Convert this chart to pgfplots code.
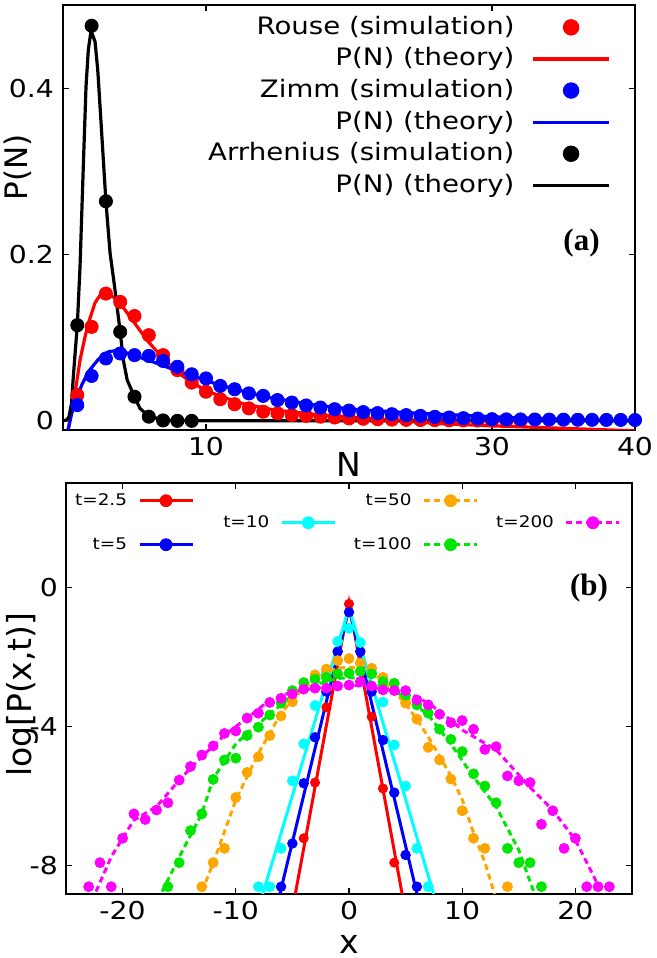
\documentclass[border=0pt]{standalone}
\usepackage{pgfplots}
\pgfplotsset{compat=1.18}
\usepackage{fontspec}
\setmainfont{DejaVu Sans}[FakeStretch=1.15]
\newfontfamily\plainsans{DejaVu Sans}
\newfontfamily\serifb{Liberation Serif}
\definecolor{myorange}{RGB}{255,165,0}
\definecolor{mygreen}{RGB}{0,230,0}
\definecolor{mycyan}{RGB}{0,255,255}
\definecolor{mymagenta}{RGB}{255,0,255}
\begin{document}
\begin{tikzpicture}
\useasboundingbox (0,0) rectangle (328.5pt,479pt);
% ---------------- (a) ----------------
\begin{axis}[
 at={(31.5pt,264pt)}, anchor=south west, scale only axis, width=286pt, height=212.5pt,
 xmin=0, xmax=40, ymin=-0.011, ymax=0.5,
 xtick={10,30,40}, xticklabels={10,30,40},
 ytick={0,0.2,0.4}, yticklabels={0,0.2,0.4},
 tick align=inside, tick pos=both, major tick length=3pt,
 axis line style={line width=0.6pt},
 tick style={line width=0.6pt, black},
 tick label style={font=\fontsize{12.3}{14}\selectfont},
 yticklabel style={xshift=-1pt},
 xlabel={N}, xlabel style={at={(axis description cs:0.5,-0.1099)}, anchor=base, font=\plainsans\fontsize{16.5}{19}\selectfont},
 ylabel={P(N)}, ylabel style={at={(axis description cs:-0.0617,0.618)}, anchor=base, font=\plainsans\fontsize{15.5}{18}\selectfont},
 legend plot pos=right, legend cell align=right,
 legend style={at={(axis description cs:0.9575,0.978)}, anchor=north east, draw=none, fill=none, inner sep=0pt, outer sep=0pt, row sep=2.8pt, column sep=8.5pt, font=\fontsize{12}{14}\selectfont, nodes={inner sep=0pt, text height=10pt, text depth=3pt}},
]
\addplot[only marks, mark=*, mark size=3.3pt, color=red,
 legend image code/.code={\fill[red] (19pt,0pt) circle (3.9pt);}] coordinates {
(1,0.031) (2,0.113) (3,0.153) (4,0.143) (5,0.126) (6,0.103) (7,0.079) (8,0.061) (9,0.046) (10,0.035)
(11,0.026) (12,0.020) (13,0.015) (14,0.011) (15,0.009) (16,0.007) (17,0.006) (18,0.005) (19,0.004) (20,0.003)
(21,0.0025) (22,0.002) (23,0.0015) (24,0.0012) (25,0.001) (26,0.0008) (27,0.0006) (28,0.0005) (29,0.0004) (30,0.0003)
(31,0.0002) (32,0.0001)};
\addlegendentry{Rouse (simulation)}
\addplot[red, line width=1.6pt, mark=none,
 legend image code/.code={\draw[red,line width=1.6pt] (0pt,0pt) -- (38pt,0pt);}] coordinates {
(0.33,-0.013) (0.61,0.013) (0.84,0.033) (1.19,0.073) (1.54,0.101) (1.77,0.117) (2.24,0.142) (2.59,0.151)
(2.94,0.154) (3.52,0.149) (4.1,0.139) (5.03,0.117) (5.97,0.095) (6.9,0.077) (7.83,0.061) (8.76,0.049)
(9.93,0.037) (11.1,0.029) (12.5,0.021) (13.9,0.016) (14.8,0.013) (18,0.007) (22,0.002) (26,-0.003)
(30,-0.006) (35,-0.009) (40,-0.012)};
\addlegendentry{P(N) (theory)}
\addplot[only marks, mark=*, mark size=3.3pt, color=blue,
 legend image code/.code={\fill[blue] (19pt,0pt) circle (3.9pt);}] coordinates {
(1,0.019) (2,0.054) (3,0.075) (4,0.081) (5,0.079) (6,0.078) (7,0.072) (8,0.065) (9,0.056) (10,0.051)
(11,0.042) (12,0.038) (13,0.033) (14,0.030) (15,0.025) (16,0.022) (17,0.0185) (18,0.016) (19,0.014) (20,0.0124)
(21,0.0105) (22,0.0093) (23,0.008) (24,0.0069) (25,0.006) (26,0.0048) (27,0.004) (28,0.0032) (29,0.0028) (30,0.002)
(31,0.0018) (32,0.0017) (33,0.0016) (34,0.0015) (35,0.0014) (36,0.0013) (37,0.0012) (38,0.0011) (39,0.0011) (40,0.001)};
\addlegendentry{Zimm (simulation)}
\addplot[blue, line width=1.6pt, mark=none,
 legend image code/.code={\draw[blue,line width=1.6pt] (0pt,0pt) -- (38pt,0pt);}] coordinates {
(0.33,-0.013) (0.61,0.009) (0.96,0.027) (1.31,0.043) (1.77,0.059) (2.47,0.074) (3.17,0.083) (3.87,0.085)
(5.27,0.077) (6.43,0.070) (7.83,0.061) (9.23,0.053) (10.6,0.045) (12.5,0.036) (14.4,0.028) (18,0.018)
(21,0.013) (25,0.009) (30,0.005) (35,0.002) (40,0.0)};
\addlegendentry{P(N) (theory)}
\addplot[only marks, mark=*, mark size=3.3pt, color=black,
 legend image code/.code={\fill[black] (19pt,0pt) circle (3.9pt);}] coordinates {
(1,0.115) (2,0.475) (3,0.264) (4,0.107) (5,0.029) (6,0.005) (7,0.0005) (8,0) (9,0)};
\addlegendentry{Arrhenius (simulation)}
\addplot[black, line width=1.6pt, mark=none,
 legend image code/.code={\draw[black,line width=1.6pt] (0pt,0pt) -- (38pt,0pt);}] coordinates {
(0,0) (0.26,0.001) (0.42,0.005) (0.6,0.021) (0.72,0.053) (1,0.115) (1.19,0.185) (1.42,0.306)
(1.61,0.402) (1.77,0.446) (1.96,0.469) (2.24,0.456) (2.43,0.422) (2.59,0.378) (2.82,0.314) (3,0.264)
(3.29,0.202) (3.58,0.165) (4,0.107) (4.22,0.073) (4.49,0.049) (5,0.029) (5.38,0.015) (5.97,0.006)
(6.8,0.002) (7.7,0) (40,0)};
\addlegendentry{P(N) (theory)}
\node[anchor=base east, font=\fontsize{15.5}{18}\serifb\bfseries] at (axis description cs:0.9505,0.4235) {(a)};
\end{axis}
% ---------------- (b) ----------------
\begin{axis}[
 at={(33pt,32pt)}, anchor=south west, scale only axis, width=283pt, height=205.5pt,
 xmin=-25, xmax=25, ymin=-8.81, ymax=2.99,
 xtick={-20,-10,0,10,20}, xticklabels={-20,-10,0,10,20},
 ytick={-8,-4,0}, yticklabels={-8,-4,0},
 tick align=inside, tick pos=both, major tick length=3pt,
 axis line style={line width=0.6pt},
 tick style={line width=0.6pt, black},
 tick label style={font=\fontsize{12.3}{14}\selectfont},
 yticklabel style={xshift=-0.5pt},
 xlabel={x}, xlabel style={at={(axis description cs:0.5,-0.1436)}, anchor=base, font=\plainsans\fontsize{16.5}{19}\selectfont},
 ylabel={log[P(x,t)]}, ylabel style={at={(axis description cs:-0.0606,0.485)}, anchor=base, font=\plainsans\fontsize{16.5}{19}\selectfont},
 legend columns=4, legend plot pos=right, legend cell align=right,
 legend style={at={(axis description cs:0.0018,0.9788)}, anchor=north west, draw=none, fill=none, inner sep=0pt, outer sep=0pt, row sep=2pt, font=\fontsize{8}{9.6}\selectfont, nodes={inner sep=0pt, text height=7pt, text depth=2pt, text width=30pt, align=right}, /tikz/every odd column/.append style={column sep=5.5pt}, /tikz/every even column/.append style={column sep=7.65pt}},
]
% t=2.5
\addplot[forget plot, red, line width=1.5pt, mark=none] coordinates {(-4.85,-9) (0,-0.45) (4.8,-9)};
\addplot[forget plot, only marks, mark=*, mark size=2.3pt, color=red] coordinates {
(-4,-7.21) (-3,-5.61) (-2,-3.45) (-1,-1.85) (0,-0.48) (1,-1.85) (2,-3.72) (3,-5.78) (4,-7.91)};
% t=5
\addplot[forget plot, blue, line width=1.5pt, mark=none] coordinates {(-6.25,-9) (0,-0.6) (6.15,-9)};
\addplot[forget plot, only marks, mark=*, mark size=2.4pt, color=blue] coordinates {
(-6,-8.6) (-5,-7.36) (-4,-5.63) (-3,-4.31) (-2,-3.0) (-1,-1.85) (0,-0.72) (1,-1.85) (2,-3.0) (3,-4.39) (4,-5.9) (5,-7.69) (6,-8.6)};
% t=10
\addplot[forget plot, mycyan, line width=1.5pt, mark=none] coordinates {(-7.8,-9) (0,-0.6) (7.65,-9)};
\addplot[forget plot, only marks, mark=*, mark size=2.5pt, color=mycyan] coordinates {
(-8,-8.6) (-7,-8.6) (-6,-7.5) (-5,-5.56) (-4,-4.5) (-3,-3.4) (-2,-2.45) (-1,-1.56) (0,-1.18) (1,-1.59) (2,-2.45) (3,-3.30) (4,-4.53) (5,-5.71) (6,-7.5) (7,-8.6)};
% t=50
\addplot[forget plot, myorange, line width=1.5pt, dash pattern=on 3pt off 2pt, mark=none] coordinates {
(-13.3,-9) (-12,-7.93) (-10,-6.11) (-8,-4.77) (-6,-3.62) (-5,-3.24) (-4,-2.9) (-3,-2.65) (-2,-2.45) (-1,-2.33) (0,-2.3)
(1,-2.33) (2,-2.45) (3,-2.68) (4,-3.0) (5,-3.35) (6,-3.8) (7,-4.3) (8,-4.85) (9,-5.42) (10,-6.1) (11,-7.05) (12,-7.9) (13.05,-9)};
\addplot[forget plot, only marks, mark=*, mark size=2.5pt, color=myorange] coordinates {
(-13,-8.6) (-12,-7.91) (-11,-7.5) (-10,-6.04) (-9,-5.32) (-8,-4.87) (-7,-4.26) (-6,-3.70) (-5,-3.29) (-4,-2.9) (-3,-2.52) (-2,-2.35) (-1,-2.11)
(0,-2.05) (1,-2.18) (2,-2.33) (3,-2.59) (4,-2.95) (5,-3.33) (6,-3.79) (7,-4.6) (8,-4.96) (9,-5.51) (10,-6.42) (11,-7.21) (12,-7.5) (14,-8.6)};
% t=100
\addplot[forget plot, mygreen, line width=1.5pt, dash pattern=on 3pt off 2pt, mark=none] coordinates {
(-16.9,-9) (-15,-7.75) (-13,-6.5) (-12,-5.5) (-10,-4.5) (-9,-4.2) (-7,-3.65) (-5,-3.1) (-3,-2.8) (-1,-2.62) (0,-2.6)
(1,-2.62) (3,-2.85) (5,-3.15) (7,-3.67) (9,-4.5) (11,-5.45) (13,-6.3) (15,-7.55) (16.6,-9)};
\addplot[forget plot, only marks, mark=*, mark size=2.5pt, color=mygreen] coordinates {
(-16,-8.6) (-15,-7.91) (-14,-6.99) (-13,-6.51) (-12,-5.52) (-11,-4.96) (-10,-4.91) (-9,-4.26) (-8,-4.02) (-7,-3.67) (-6,-3.33) (-5,-2.97)
(-4,-2.74) (-3,-2.64) (-2,-2.59) (-1,-2.49) (0,-2.47) (1,-2.42) (2,-2.49) (3,-2.71) (4,-2.76) (5,-3.1) (6,-3.38) (7,-3.62) (8,-4.08)
(9,-4.37) (10,-4.72) (11,-5.36) (12,-5.71) (13,-6.19) (14,-7.5) (15,-7.91) (16,-7.91) (17,-8.6)};
% t=200
\addplot[forget plot, mymagenta, line width=1.5pt, dash pattern=on 3pt off 2pt, mark=none] coordinates {
(-22.7,-9) (-21,-7.74) (-20,-7.21) (-19,-6.69) (-17,-6.3) (-15,-5.54) (-13,-4.87) (-11,-4.25) (-9,-3.76) (-7,-3.24) (-5,-3.0) (-3,-2.9) (0,-2.8)
(3,-2.92) (5,-3.05) (6,-3.14) (8,-3.55) (10,-4.1) (13,-4.67) (16,-5.75) (18,-6.4) (20,-7.26) (22.7,-9)};
\addplot[forget plot, only marks, mark=*, mark size=2.5pt, color=mymagenta] coordinates {
(-23,-8.6) (-22,-7.91) (-21,-8.6) (-20,-7.21) (-19,-6.51) (-18,-6.67) (-17,-6.40) (-16,-6.19) (-15,-5.54) (-14,-5.15) (-13,-4.82) (-12,-4.56)
(-11,-4.20) (-10,-4.13) (-9,-3.76) (-8,-3.62) (-7,-3.31) (-6,-3.19) (-5,-3.07) (-4,-2.93) (-3,-2.90) (-2,-2.90) (-1,-2.84) (0,-2.81)
(1,-2.71) (2,-2.84) (3,-2.95) (4,-2.97) (5,-2.97) (6,-3.24) (7,-3.38) (8,-3.65) (9,-3.89) (10,-3.83) (11,-4.08) (12,-4.66) (13,-4.58)
(14,-5.42) (15,-5.56) (16,-5.61) (17,-6.81) (18,-6.42) (19,-7.50) (20,-7.21) (21,-8.6) (22,-8.6) (23,-8.6)};
% legend (staggered layout)
\addlegendimage{legend image code/.code={\draw[red,line width=1.5pt] (0pt,0pt) -- (26.5pt,0pt); \fill[red] (13.25pt,0pt) circle (3pt);}}
\addlegendentry{t=2.5}
\addlegendimage{empty legend}\addlegendentry{}
\addlegendimage{legend image code/.code={\draw[myorange,line width=1.5pt,dash pattern=on 3pt off 2pt] (0pt,0pt) -- (26.5pt,0pt); \fill[myorange] (13.25pt,0pt) circle (3pt);}}
\addlegendentry{t=50}
\addlegendimage{empty legend}\addlegendentry{}
\addlegendimage{empty legend}\addlegendentry{}
\addlegendimage{legend image code/.code={\draw[mycyan,line width=1.5pt] (0pt,0pt) -- (26.5pt,0pt); \fill[mycyan] (13.25pt,0pt) circle (3pt);}}
\addlegendentry{t=10}
\addlegendimage{empty legend}\addlegendentry{}
\addlegendimage{legend image code/.code={\draw[mymagenta,line width=1.5pt,dash pattern=on 3pt off 2pt] (0pt,0pt) -- (26.5pt,0pt); \fill[mymagenta] (13.25pt,0pt) circle (3pt);}}
\addlegendentry{t=200}
\addlegendimage{legend image code/.code={\draw[blue,line width=1.5pt] (0pt,0pt) -- (26.5pt,0pt); \fill[blue] (13.25pt,0pt) circle (3pt);}}
\addlegendentry{t=5}
\addlegendimage{empty legend}\addlegendentry{}
\addlegendimage{legend image code/.code={\draw[mygreen,line width=1.5pt,dash pattern=on 3pt off 2pt] (0pt,0pt) -- (26.5pt,0pt); \fill[mygreen] (13.25pt,0pt) circle (3pt);}}
\addlegendentry{t=100}
\addlegendimage{empty legend}\addlegendentry{}
\node[anchor=base east, font=\fontsize{15.5}{18}\serifb\bfseries] at (axis description cs:0.970,0.7258) {(b)};
\end{axis}
\end{tikzpicture}
\end{document}
